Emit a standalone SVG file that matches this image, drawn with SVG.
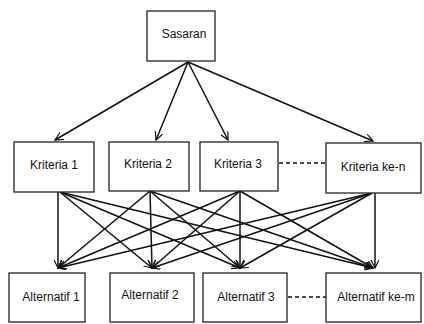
<svg xmlns="http://www.w3.org/2000/svg" width="424" height="324" viewBox="0 0 424 324">
<style>
.box{fill:#fff;stroke:#222;stroke-width:1.3}
.lbl{font-family:"Liberation Sans",Arial,sans-serif;font-size:12px;fill:#111;text-anchor:middle;dominant-baseline:central}
.ln{stroke:#111;stroke-width:1.5;fill:none;marker-end:url(#arr)}
.dash{stroke:#111;stroke-width:1.3;stroke-dasharray:4,3;fill:none}
</style>
<defs>
<marker id="arr" markerUnits="userSpaceOnUse" markerWidth="10" markerHeight="10" refX="8" refY="4" orient="auto">
<path d="M0,0 L8,4 L0,8" fill="none" stroke="#111" stroke-width="1.2"/>
</marker>
</defs>
<rect width="424" height="324" fill="#fff"/>
<g id="connectors">
<line class="ln" x1="188" y1="62" x2="55" y2="140"/>
<line class="ln" x1="188" y1="62" x2="156" y2="140"/>
<line class="ln" x1="188" y1="62" x2="228" y2="140"/>
<line class="ln" x1="188" y1="62" x2="373" y2="141"/>
<line class="ln" x1="58" y1="192" x2="58" y2="268"/>
<line class="ln" x1="60" y1="192" x2="152" y2="268"/>
<line class="ln" x1="60" y1="192" x2="240" y2="268"/>
<line class="ln" x1="60" y1="192" x2="373" y2="268"/>
<line class="ln" x1="150" y1="191" x2="58" y2="268"/>
<line class="ln" x1="150" y1="191" x2="152" y2="268"/>
<line class="ln" x1="150" y1="191" x2="240" y2="268"/>
<line class="ln" x1="150" y1="191" x2="373" y2="268"/>
<line class="ln" x1="240" y1="191" x2="58" y2="268"/>
<line class="ln" x1="240" y1="191" x2="152" y2="268"/>
<line class="ln" x1="240" y1="191" x2="240" y2="268"/>
<line class="ln" x1="240" y1="191" x2="373" y2="268"/>
<line class="ln" x1="372" y1="193" x2="58" y2="268"/>
<line class="ln" x1="372" y1="193" x2="152" y2="268"/>
<line class="ln" x1="372" y1="193" x2="240" y2="268"/>
<line class="ln" x1="375" y1="193" x2="375" y2="268"/>
<line class="dash" x1="279" y1="163" x2="326" y2="163"/>
<line class="dash" x1="288" y1="297" x2="326" y2="297"/>
</g>
<g id="sasaran"><rect class="box" x="147" y="11" width="68" height="50"/><text class="lbl" x="184" y="34">Sasaran</text></g>
<g id="kriteria1"><rect class="box" x="14" y="142" width="80" height="50"/><text class="lbl" x="54" y="165">Kriteria 1</text></g>
<g id="kriteria2"><rect class="box" x="109" y="142" width="80" height="49"/><text class="lbl" x="148" y="164">Kriteria 2</text></g>
<g id="kriteria3"><rect class="box" x="200" y="142" width="78" height="49"/><text class="lbl" x="238" y="164">Kriteria 3</text></g>
<g id="kriteriaN"><rect class="box" x="326" y="143" width="95" height="50"/><text class="lbl" x="373" y="167">Kriteria ke-n</text></g>
<g id="alternatif1"><rect class="box" x="9" y="273" width="76" height="49"/><text class="lbl" x="51" y="297">Alternatif 1</text></g>
<g id="alternatif2"><rect class="box" x="110" y="273" width="84" height="49"/><text class="lbl" x="150" y="295">Alternatif 2</text></g>
<g id="alternatif3"><rect class="box" x="203" y="273" width="84" height="49"/><text class="lbl" x="246" y="297">Alternatif 3</text></g>
<g id="alternatifM"><rect class="box" x="326" y="273" width="95" height="49"/><text class="lbl" x="376" y="297">Alternatif ke-m</text></g>
</svg>
